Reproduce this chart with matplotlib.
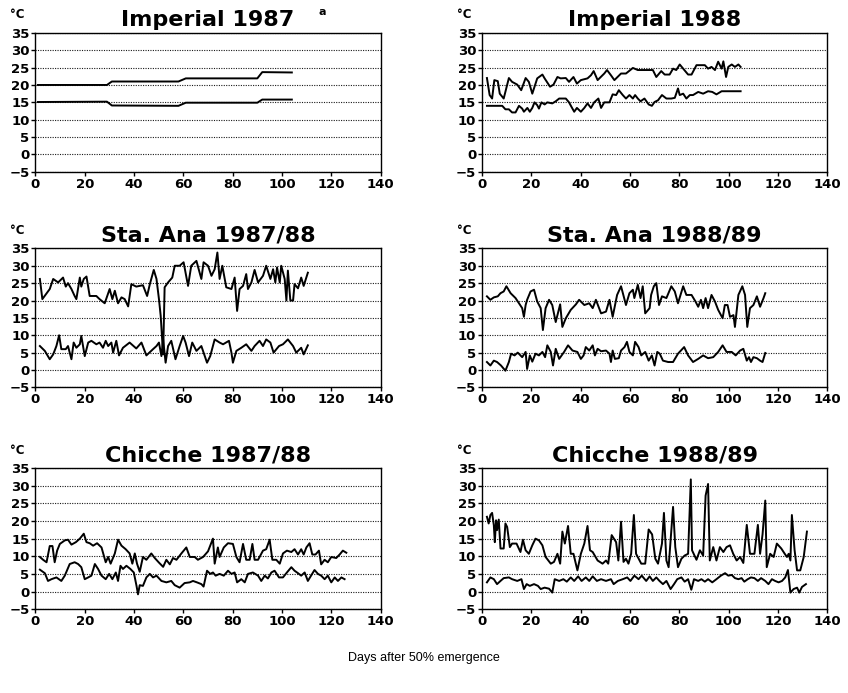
import matplotlib
matplotlib.use('Agg')
import matplotlib.pyplot as plt

# daily max / min air temperature (deg C) against days after 50% emergence

# Imperial 1987 (monthly step values)
imp87_max_d = [1, 29, 31, 58, 61, 90, 92, 104]
imp87_max_t = [20, 20, 21, 21, 21.9, 21.9, 23.7, 23.6]
imp87_min_d = [1, 29, 31, 58, 61, 90, 92, 104]
imp87_min_t = [15.1, 15.2, 14.1, 14.0, 14.9, 14.9, 15.8, 15.8]

# Imperial 1988
imp88_max_d = [2.0, 3.1, 4.1, 5.0, 6.4, 7.2, 8.8, 10.9, 12.2, 14.3, 15.9, 17.7, 19.0, 20.4, 22.4, 24.5,
               25.4, 27.6, 29.0, 30.6, 31.9, 34.0, 35.3, 37.1, 38.5, 40.1, 42.8, 44.2, 45.3, 46.9, 49.6,
               50.7, 52.3, 53.7, 56.4, 58.4, 61.2, 63.2, 69.3, 70.7, 72.7, 74.1, 76.1, 77.5, 78.8, 80.2,
               81.6, 83.6, 85.0, 87.0, 90.4, 91.7, 93.1, 94.5, 95.8, 97.2, 97.9, 99.0, 99.9, 101.3,
               102.6, 104.0, 104.9]
imp88_max_t = [22.0, 17.1, 16.1, 21.4, 21.1, 17.5, 16.1, 22.0, 20.9, 20.1, 18.5, 22.0, 20.9, 17.5, 21.9,
               23.0, 21.9, 19.5, 20.1, 22.3, 21.9, 22.0, 20.9, 22.3, 20.4, 21.4, 21.9, 22.8, 24.0, 21.4,
               23.3, 24.3, 22.8, 21.4, 23.3, 23.3, 24.9, 24.3, 24.3, 22.3, 24.0, 23.0, 23.0, 24.7, 24.3,
               25.9, 24.7, 23.0, 23.0, 25.7, 25.7, 24.7, 25.2, 24.3, 26.7, 24.7, 26.8, 22.3, 25.2, 25.9,
               25.2, 25.9, 25.2]
imp88_min_d = [2.0, 8.2, 9.5, 10.9, 12.2, 13.6, 15.0, 16.3, 17.0, 18.4, 19.4, 20.4, 21.3, 22.4, 23.1, 24.1,
               25.4, 26.5, 28.5, 29.9, 31.3, 34.0, 35.3, 36.3, 37.4, 38.5, 40.1, 41.5, 42.8, 44.2, 45.5,
               47.2, 48.3, 49.6, 51.7, 53.0, 54.4, 55.5, 57.1, 58.4, 59.8, 61.2, 62.1, 63.2, 64.3, 65.9,
               67.6, 68.9, 70.0, 71.4, 73.0, 74.8, 76.8, 78.2, 79.5, 80.2, 81.6, 82.9, 84.3, 85.6, 87.7,
               89.7, 91.7, 93.4, 95.1, 97.2, 104.9]
imp88_min_t = [14.0, 14.0, 13.0, 13.0, 12.1, 12.1, 14.0, 13.2, 12.3, 13.4, 12.3, 13.4, 15.0, 14.2, 13.2,
               15.0, 14.4, 15.0, 14.7, 15.3, 16.1, 16.1, 15.0, 13.7, 12.3, 13.4, 12.3, 13.4, 14.7, 13.4,
               15.0, 16.1, 13.4, 15.0, 15.0, 17.3, 17.1, 18.5, 17.1, 16.1, 17.1, 16.1, 17.1, 16.1, 15.3,
               16.1, 14.4, 14.0, 15.1, 15.6, 17.1, 16.1, 16.1, 16.3, 19.0, 17.1, 17.5, 16.1, 17.1, 17.1,
               18.0, 17.5, 18.2, 18.0, 17.3, 18.2, 18.2]

# Sta. Ana 1987/88
sa87_max_d = [1.8, 2.8, 5.8, 7.2, 9.2, 11.2, 12.3, 13.2, 14.6, 15.9, 16.6, 18.0, 18.6, 19.6, 20.7, 22.0,
              24.7, 26.0, 28.1, 30.1, 31.2, 32.2, 33.5, 34.9, 36.2, 37.6, 38.9, 40.9, 43.6, 45.3, 46.4,
              48.0, 49.1, 50.1, 50.8, 51.4, 51.8, 52.4, 53.8, 55.5, 56.5, 58.5, 60.1, 61.9, 63.2, 65.3,
              67.3, 68.2, 70.0, 71.4, 72.7, 73.8, 74.7, 75.8, 77.4, 79.5, 80.8, 81.8, 82.8, 84.2, 85.5,
              86.2, 87.6, 88.9, 90.3, 92.3, 93.6, 95.3, 96.4, 97.3, 98.0, 99.1, 99.7, 101.1, 101.8,
              102.4, 103.4, 104.5, 105.1, 106.5, 107.8, 108.8, 110.5]
sa87_max_t = [26.2, 20.4, 23.3, 26.2, 25.2, 26.6, 24.0, 25.0, 23.3, 21.3, 20.4, 26.6, 24.0, 26.2, 26.9,
              21.3, 21.3, 20.4, 19.2, 23.3, 20.4, 22.8, 19.2, 20.9, 20.4, 18.3, 24.7, 24.0, 24.4, 21.3,
              24.7, 28.8, 26.2, 20.4, 15.6, 8.8, 4.5, 23.8, 25.2, 26.6, 30.0, 30.0, 31.0, 24.2, 30.0,
              31.4, 26.2, 31.0, 30.0, 27.1, 29.0, 33.8, 26.2, 30.0, 23.8, 23.3, 26.6, 17.0, 23.3, 24.2,
              27.6, 23.3, 25.2, 28.8, 25.2, 27.1, 30.0, 26.2, 29.0, 25.2, 29.5, 25.2, 30.0, 26.2, 20.0,
              28.6, 20.0, 20.0, 24.7, 23.5, 26.6, 24.2, 28.0]
sa87_min_d = [1.8, 3.8, 5.8, 7.2, 8.5, 9.6, 10.5, 12.3, 13.2, 14.6, 15.5, 16.6, 18.0, 18.6, 20.0, 21.4,
              22.7, 24.7, 26.0, 27.4, 28.5, 29.5, 30.8, 31.5, 32.8, 33.9, 35.5, 38.2, 40.9, 43.0, 45.0,
              47.7, 49.1, 50.1, 51.1, 51.8, 52.8, 53.8, 55.1, 56.8, 58.5, 59.9, 60.9, 62.3, 63.6, 65.3,
              67.3, 69.6, 70.9, 72.7, 74.7, 76.1, 78.5, 79.5, 80.1, 81.5, 83.5, 85.5, 87.6, 88.9, 90.9,
              92.3, 93.6, 95.3, 96.6, 98.8, 100.4, 102.4, 104.5, 105.8, 107.8, 108.8, 110.5]
sa87_min_t = [6.9, 5.5, 3.1, 4.5, 6.9, 10.0, 6.0, 6.0, 6.9, 3.1, 7.9, 6.4, 7.4, 9.8, 4.0, 7.9, 8.4, 7.4,
              7.9, 6.4, 8.4, 6.9, 7.9, 5.0, 8.4, 4.2, 6.4, 7.9, 6.2, 7.9, 4.2, 6.0, 6.9, 7.9, 4.0, 8.8,
              2.1, 6.9, 8.4, 3.1, 6.9, 9.8, 7.9, 4.0, 7.9, 5.5, 6.9, 2.1, 4.0, 8.8, 7.9, 7.4, 8.4, 5.0,
              2.1, 5.5, 6.4, 7.4, 5.5, 6.9, 8.4, 6.9, 8.8, 7.9, 5.0, 6.9, 7.4, 8.8, 6.9, 5.0, 6.4, 4.5,
              7.1]

# Sta. Ana 1988/89
sa88_max_d = [2.0, 3.4, 4.8, 6.4, 7.5, 8.8, 9.9, 11.6, 13.6, 15.0, 16.3, 17.0, 17.7, 18.3, 19.7, 21.1,
              22.4, 23.8, 24.7, 25.8, 27.2, 28.5, 29.9, 31.7, 32.6, 34.0, 36.0, 38.1, 39.4, 41.5, 43.5,
              44.9, 46.2, 48.3, 50.3, 51.7, 53.0, 54.8, 56.4, 58.4, 59.8, 61.2, 61.8, 63.2, 64.3, 65.2,
              66.2, 68.0, 68.6, 69.7, 70.7, 71.8, 73.0, 74.8, 76.8, 78.2, 79.5, 81.6, 82.9, 85.0, 86.6,
              87.7, 88.8, 89.7, 90.7, 91.7, 93.1, 94.5, 95.8, 97.6, 98.5, 99.6, 100.6, 102.0, 102.6,
              104.0, 105.6, 106.7, 107.6, 108.7, 110.1, 111.5, 112.8, 114.2, 114.9]
sa88_max_t = [21.2, 20.2, 20.9, 21.2, 22.1, 22.6, 24.1, 22.1, 20.7, 19.2, 17.8, 15.3, 18.7, 20.2, 22.6,
              23.1, 19.7, 17.8, 11.5, 17.8, 20.2, 18.7, 13.8, 18.9, 12.4, 14.9, 17.3, 18.9, 20.2, 18.7,
              19.2, 17.8, 20.2, 16.3, 16.8, 20.2, 15.3, 21.6, 24.1, 18.7, 22.1, 23.1, 20.7, 24.5, 20.7,
              24.1, 16.3, 17.8, 21.6, 24.1, 25.0, 18.7, 21.2, 20.7, 24.1, 22.6, 19.2, 24.1, 21.6, 21.6,
              19.7, 18.2, 20.2, 17.8, 20.7, 17.8, 21.6, 19.7, 17.3, 14.9, 18.7, 18.7, 15.3, 15.8, 12.4,
              21.6, 24.1, 21.6, 12.4, 17.8, 18.7, 21.2, 18.2, 20.7, 22.1]
sa88_min_d = [2.0, 3.4, 4.8, 6.1, 7.7, 9.5, 10.9, 11.8, 13.2, 14.5, 16.3, 17.7, 18.3, 19.4, 20.4, 21.7,
              23.1, 24.5, 25.6, 26.5, 27.9, 28.8, 29.9, 31.3, 33.3, 34.9, 36.7, 38.7, 40.1, 41.2, 42.1,
              43.5, 44.9, 45.8, 46.9, 48.3, 50.3, 51.7, 52.3, 53.0, 53.9, 55.5, 56.4, 57.8, 58.8, 59.8,
              61.2, 62.1, 63.5, 64.6, 66.2, 67.6, 68.9, 70.0, 71.1, 72.1, 73.4, 75.5, 77.5, 79.5, 82.0,
              83.6, 85.6, 87.7, 89.7, 91.7, 93.8, 95.8, 97.6, 99.2, 101.3, 102.9, 104.7, 106.0, 107.4,
              108.3, 109.1, 110.1, 111.5, 112.8, 113.8, 114.9]
sa88_min_t = [2.3, 1.3, 2.7, 2.3, 1.3, -0.2, 2.3, 4.7, 4.2, 5.0, 3.7, 5.2, 0.3, 4.2, 2.4, 4.7, 4.2, 5.2,
              3.7, 7.1, 5.2, 1.3, 6.1, 3.2, 5.2, 7.1, 5.6, 5.2, 3.2, 4.2, 6.6, 5.6, 7.1, 4.2, 6.1, 5.4,
              5.6, 4.7, 2.3, 5.6, 3.2, 3.4, 5.6, 6.6, 8.1, 5.2, 4.2, 8.1, 6.6, 4.2, 5.2, 2.7, 4.2, 1.3,
              5.2, 4.7, 2.7, 2.3, 2.3, 4.7, 6.6, 4.2, 2.3, 3.2, 4.2, 3.4, 3.7, 5.2, 7.1, 5.2, 5.2, 4.2,
              5.6, 6.1, 2.7, 3.7, 2.3, 3.7, 3.4, 2.7, 2.3, 4.9]

# Chicche 1987/88
ch87_max_d = [1.8, 3.1, 4.5, 5.8, 6.9, 7.8, 8.8, 9.9, 11.9, 13.2, 14.6, 16.4, 18.0, 19.6, 20.7, 22.0,
              23.4, 25.0, 26.8, 28.5, 29.5, 30.5, 32.2, 33.5, 34.9, 36.6, 38.2, 39.3, 40.3, 41.2, 42.3,
              43.6, 45.0, 47.0, 48.4, 50.1, 51.8, 53.1, 54.5, 55.8, 57.2, 59.2, 61.2, 62.6, 64.6, 65.9,
              68.0, 70.0, 72.0, 72.7, 74.0, 74.7, 76.4, 78.1, 80.1, 81.5, 82.8, 84.2, 85.5, 86.9, 88.0,
              88.9, 90.3, 92.3, 93.6, 95.0, 96.1, 97.7, 99.1, 100.4, 102.0, 103.8, 105.1, 106.5, 107.8,
              108.8, 109.9, 111.2, 112.3, 113.6, 115.0, 115.9, 117.3, 118.6, 120.0, 122.0, 123.4,
              124.7, 126.1]
ch87_max_t = [9.8, 9.0, 8.3, 12.9, 12.9, 8.3, 11.6, 13.5, 14.5, 14.7, 13.3, 14.0, 15.0, 16.4, 14.0,
              13.7, 13.0, 13.7, 12.5, 8.3, 9.8, 7.9, 10.8, 14.7, 13.0, 12.0, 10.8, 7.9, 10.8, 7.9, 5.6,
              9.8, 9.0, 10.8, 9.5, 8.2, 7.0, 9.0, 7.7, 9.5, 9.0, 10.8, 12.5, 9.8, 9.8, 9.0, 9.8, 11.4,
              15.0, 7.9, 12.5, 9.8, 12.5, 13.7, 13.5, 9.8, 8.3, 13.5, 9.0, 9.0, 13.5, 9.0, 9.0, 11.6,
              12.0, 14.7, 9.0, 9.0, 7.9, 10.8, 11.6, 11.2, 12.0, 10.5, 12.0, 10.5, 12.5, 13.7, 10.5,
              10.5, 11.6, 7.7, 9.0, 8.3, 9.8, 9.5, 10.5, 11.6, 11.0]
ch87_min_d = [1.8, 3.8, 5.1, 6.5, 8.5, 10.5, 11.9, 13.9, 15.9, 17.3, 18.6, 20.0, 21.4, 22.7, 24.1, 25.4,
              26.8, 28.5, 29.9, 31.2, 32.6, 33.5, 34.5, 35.5, 36.9, 38.5, 39.9, 41.0, 41.6, 42.3, 43.6,
              45.0, 46.4, 47.7, 49.1, 51.1, 53.1, 55.1, 56.5, 58.5, 60.5, 62.6, 63.9, 65.5, 67.3, 68.2,
              69.6, 70.9, 72.0, 73.1, 74.7, 76.4, 78.1, 79.5, 80.8, 81.8, 83.5, 84.9, 86.2, 88.2, 90.3,
              91.6, 93.0, 94.3, 95.7, 97.0, 98.8, 100.4, 102.0, 103.8, 105.1, 106.5, 107.8, 109.2,
              110.5, 111.8, 113.2, 114.6, 115.9, 117.3, 118.6, 120.0, 121.4, 122.7, 124.1, 125.4]
ch87_min_t = [6.2, 5.2, 3.0, 3.5, 4.0, 3.0, 4.5, 7.8, 8.3, 7.8, 6.9, 3.5, 4.0, 4.5, 7.8, 6.4, 4.5, 3.5,
              5.0, 3.5, 5.4, 3.0, 7.3, 6.4, 7.3, 6.4, 5.4, 1.6, -0.8, 1.8, 1.6, 4.0, 5.0, 4.0, 4.5, 3.0,
              2.6, 3.0, 1.8, 1.1, 2.4, 2.6, 3.0, 2.6, 2.1, 1.4, 5.9, 5.0, 5.4, 4.5, 5.0, 4.5, 5.9, 5.0,
              5.4, 2.6, 3.5, 2.6, 5.0, 5.4, 4.5, 3.0, 4.5, 3.7, 5.4, 5.9, 4.0, 4.0, 5.4, 6.9, 5.9, 5.2,
              4.5, 5.4, 3.0, 4.5, 6.1, 5.0, 4.5, 3.5, 4.5, 2.6, 4.0, 3.0, 4.0, 3.5]

# Chicche 1988/89
ch88_max_d = [2.0, 2.7, 3.4, 4.1, 4.8, 5.2, 5.7, 6.1, 6.8, 7.5, 8.8, 9.5, 10.2, 11.3, 12.2, 14.0, 15.6,
              16.6, 17.7, 19.0, 20.4, 21.7, 23.1, 24.5, 25.8, 27.9, 29.2, 30.6, 31.7, 32.6, 33.6, 34.9,
              36.0, 37.1, 38.7, 40.1, 41.5, 42.8, 43.8, 44.9, 46.9, 48.9, 50.3, 51.2, 52.6, 54.4, 55.3,
              56.4, 57.4, 58.4, 59.4, 60.5, 61.6, 62.5, 64.6, 66.2, 67.6, 69.0, 70.3, 71.4, 73.0, 73.8,
              74.8, 75.7, 77.5, 78.4, 79.5, 80.9, 82.2, 83.6, 84.7, 85.2, 87.0, 88.4, 89.7, 90.7, 91.7,
              92.4, 93.8, 95.1, 96.5, 97.9, 99.2, 100.6, 101.9, 103.3, 104.7, 106.0, 107.4, 108.7,
              110.5, 111.9, 112.8, 113.8, 114.9, 115.5, 116.9, 118.3, 119.6, 121.4, 122.8, 123.7,
              124.4, 125.1, 125.7, 126.8, 127.8, 129.1, 130.5, 131.8]
ch88_max_t = [21.2, 19.3, 21.7, 22.3, 18.8, 14.0, 20.2, 17.4, 20.4, 12.2, 12.2, 19.3, 18.3, 12.6, 13.6,
              13.6, 11.2, 14.7, 11.7, 10.7, 13.1, 15.0, 14.5, 13.1, 9.8, 7.9, 8.4, 10.7, 7.9, 17.0, 13.6,
              18.6, 10.7, 10.7, 6.0, 10.7, 13.6, 18.6, 11.7, 11.2, 8.8, 7.9, 8.8, 7.9, 16.0, 14.0, 8.8,
              19.8, 8.4, 9.3, 7.9, 10.7, 21.7, 10.7, 7.9, 7.9, 17.6, 16.2, 9.3, 7.9, 13.6, 22.3, 8.8,
              6.9, 24.0, 12.6, 6.9, 9.3, 10.2, 10.7, 31.8, 11.7, 9.0, 11.7, 10.2, 27.2, 30.5, 8.8, 12.6,
              8.8, 12.6, 11.2, 12.6, 13.1, 10.7, 8.8, 9.8, 8.1, 18.9, 10.7, 10.7, 18.9, 10.7, 16.2,
              25.8, 6.9, 10.7, 9.8, 13.6, 12.2, 10.7, 9.8, 10.7, 8.8, 21.7, 11.7, 6.0, 6.0, 9.8, 17.0]
ch88_min_d = [2.0, 3.4, 4.8, 6.1, 7.5, 8.8, 10.9, 12.2, 14.3, 16.0, 17.0, 18.1, 19.4, 21.1, 22.7, 23.8,
              25.4, 27.2, 28.5, 29.5, 31.3, 33.0, 34.4, 36.0, 37.4, 39.0, 40.4, 42.1, 43.5, 44.9, 46.6,
              48.3, 50.3, 52.3, 53.4, 55.1, 57.1, 58.9, 60.2, 61.8, 63.5, 64.8, 66.6, 68.0, 69.3, 70.7,
              72.0, 73.4, 74.8, 76.5, 77.9, 79.2, 80.9, 82.2, 83.6, 84.9, 86.0, 87.7, 89.0, 90.4, 91.7,
              93.4, 95.1, 96.9, 98.6, 99.9, 101.3, 102.6, 104.0, 105.3, 106.4, 107.8, 109.1, 110.5,
              111.9, 113.2, 114.9, 116.2, 117.6, 118.9, 120.3, 121.7, 123.0, 124.1, 125.1, 126.4,
              127.8, 128.7, 129.8, 131.4]
ch88_min_t = [2.6, 4.0, 3.5, 2.1, 3.0, 3.8, 4.0, 3.5, 3.0, 3.5, 0.7, 2.1, 1.6, 2.1, 1.6, 0.7, 1.1, 0.8,
              -0.3, 3.5, 3.0, 3.5, 2.8, 4.0, 3.0, 4.3, 3.0, 4.0, 3.0, 4.3, 3.0, 3.5, 3.0, 3.5, 2.1, 3.0,
              3.5, 4.0, 3.0, 4.5, 3.5, 4.5, 3.0, 4.3, 3.0, 4.0, 3.0, 2.1, 3.0, 0.7, 2.1, 3.5, 4.0, 2.8,
              3.5, 0.5, 3.5, 3.0, 3.5, 2.8, 3.5, 2.6, 3.5, 4.5, 5.2, 4.5, 4.7, 3.8, 3.5, 3.8, 2.8, 3.5,
              4.0, 3.8, 3.0, 3.8, 3.0, 2.1, 3.5, 3.0, 2.6, 3.0, 4.0, 6.1, -0.3, 0.7, 1.1, -0.3, 1.3, 2.1]

titles = ['Imperial 1987', 'Imperial 1988', 'Sta. Ana 1987/88',
          'Sta. Ana 1988/89', 'Chicche 1987/88', 'Chicche 1988/89']
series = [[(imp87_max_d, imp87_max_t), (imp87_min_d, imp87_min_t)],
          [(imp88_max_d, imp88_max_t), (imp88_min_d, imp88_min_t)],
          [(sa87_max_d, sa87_max_t), (sa87_min_d, sa87_min_t)],
          [(sa88_max_d, sa88_max_t), (sa88_min_d, sa88_min_t)],
          [(ch87_max_d, ch87_max_t), (ch87_min_d, ch87_min_t)],
          [(ch88_max_d, ch88_max_t), (ch88_min_d, ch88_min_t)]]
x_ticks = list(range(0, 141, 20))
y_ticks = list(range(-5, 36, 5))

plt.rcParams['font.family'] = ['DejaVu Sans']
plt.rcParams['font.weight'] = 'bold'

fig = plt.figure(figsize=(8.48, 6.93), dpi=100)

# panel boxes: [left, bottom, width, height] in figure fractions
lefts = [0.0418, 0.5684]
bottoms = [0.752, 0.441, 0.121]
heights = [0.2006, 0.2006, 0.2035]

for i in range(6):
    r, c = i // 2, i % 2
    ax = fig.add_axes([lefts[c], bottoms[r], 0.407, heights[r]])
    for d, t in series[i]:
        ax.plot(d, t, color='black', lw=1.4)
    ax.set_xlim(0, 140)
    ax.set_ylim(-5, 35)
    ax.set_xticks(x_ticks)
    ax.set_yticks(y_ticks)
    ax.yaxis.grid(True, linestyle=(0, (1, 1.2)), color='0.1', lw=0.8)
    ax.tick_params(direction='out', length=3, width=1, labelsize=9.5, pad=1.2)
    for lab in ax.get_xticklabels() + ax.get_yticklabels():
        lab.set_fontweight('bold')
    for s in ax.spines.values():
        s.set_linewidth(1.0)
    ax.set_title(titles[i], fontsize=16, fontweight='bold', pad=5)
    # unit label above the y axis
    ax.annotate('°C', xy=(0, 1), xycoords='axes fraction', xytext=(-13, 13),
                textcoords='offset points', ha='center', va='center',
                fontsize=8.5, fontweight='bold')
    if i == 0:
        ax.annotate('a', xy=(1, 1), xycoords='axes fraction', xytext=(-42, 15),
                    textcoords='offset points', ha='center', va='center',
                    fontsize=8, fontweight='bold')

fig.text(0.5, 0.0505, 'Days after 50% emergence', ha='center', va='center',
         fontsize=9, fontweight='normal', family='Liberation Sans')

fig.savefig('out.png', dpi=100)
